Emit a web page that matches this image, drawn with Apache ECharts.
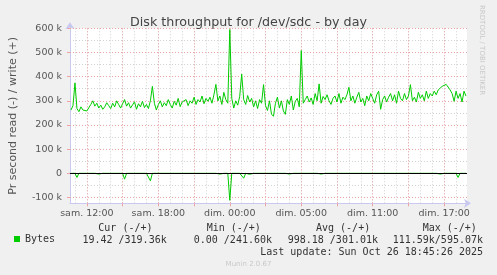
<!DOCTYPE html>
<html><head><meta charset="utf-8">
<script src="https://cdn.jsdelivr.net/npm/echarts@6/dist/echarts.min.js"></script>
<style>html,body{margin:0;padding:0;background:#f0f0f0}#c{width:497px;height:275px}</style>
</head><body><div id="c"></div>
<script>
// time axis: elapsed minutes since Saturday 00:00 (10-minute samples)
const startMinute = 640;
const stepMinutes = 10;
// write (+) throughput, k bytes/s
const writeBytesK = [
 262,280,374,268,255,275,262,270,258,266, 285,300,278,290,270,282,265,275,292,280,
 268,290,275,300,285,270,288,305,278,292, 270,283,296,265,288,275,298,272,285,268,
 300,360,290,262,284,300,275,292,280,305, 285,270,298,282,310,276,295,288,305,280,
 300,290,315,285,305,295,320,288,310,298, 315,290,325,368,300,320,285,335,305,290,
 595,310,270,300,282,318,411,305,285,322, 295,310,275,300,268,305,290,367,280,260,
 300,245,236,290,315,270,300,258,244,305, 285,320,262,298,310,275,508,290,305,320,
 295,312,285,330,300,370,290,318,305,325, 300,285,310,320,295,330,290,315,305,325,
 356,300,320,290,315,335,295,310,280,320, 300,330,310,290,325,340,265,305,320,295,
 315,330,300,325,290,340,310,300,330,305, 320,367,300,315,295,335,310,325,300,340,
 310,330,320,340,325,345,350,360,355,368, 360,345,330,298,340,310,330,295,340,319.36
];
// read (-) throughput, k bytes/s
const readBytesK = [
 0,0,0,-17,0,0,0,0,0,0, 0,0,0,0,-3,0,0,0,0,0,
 0,0,0,0,0,0,0,-24,0,0, 0,0,0,0,0,0,0,0,0,0,
 -31,0,0,0,0,0,0,0,0,0, 0,0,0,0,0,0,0,0,0,0,
 0,0,0,0,0,0,0,0,0,0, -3,0,0,0,0,-3,0,0,0,0,
 -111.59,0,0,0,0,0,-4,-20,0,0, -4,0,0,0,0,0,0,0,0,0,
 0,0,0,0,0,0,0,-3,0,0, -3,0,0,0,0,0,0,0,0,0,
 0,0,0,0,0,0,-3,0,0,0, 0,0,0,0,0,0,0,0,0,0,
 0,0,0,0,0,0,0,0,0,0, 0,0,0,0,0,0,0,0,0,0,
 0,0,0,0,0,0,0,0,0,0, 0,0,0,0,0,0,0,0,0,0,
 0,0,0,0,0,0,-3,0,0,0, 0,0,0,0,0,-17,0,0,0,-0.02
];
const xTickMinutes = [720,1080,1440,1800,2160,2520];
const xTickLabels = ['sam. 12:00','sam. 18:00','dim. 00:00','dim. 05:00','dim. 11:00','dim. 17:00'];
const yTickValues = [-100,0,100,200,300,400,500,600];
const legendHeaders = ['Cur (-/+)','Min (-/+)','Avg (-/+)','Max (-/+)'];
const legendValues = ['19.42 /319.36k','0.00 /241.60k','998.18 /301.01k','111.59k/595.07k'];
const titleText = 'Disk throughput for /dev/sdc - by day';
const yName = 'Pr second read (-) / write (+)';
const lastUpdate = 'Last update: Sun Oct 26 18:45:26 2025';

const xMin = 635, xMax = 2635, yMin = -124, yMax = 600;
const GREY = '#d2d2d2', RED = '#eca4a4', AXIS = '#c8c8f0';

const toPts = arr => arr.map((v, i) => [startMinute + i * stepMinutes, v]);

const gridLines = [];
for (let m = 660; m <= 2580; m += 60) gridLines.push({xAxis: m, lineStyle: {color: GREY}});
for (let v = -50; v <= 550; v += 100) gridLines.push({yAxis: v, lineStyle: {color: GREY}});
const majorX = [];
for (let m = 720; m <= 2580; m += 180) { majorX.push(m); gridLines.push({xAxis: m, lineStyle: {color: RED}}); }
for (const v of yTickValues) if (v !== 0) gridLines.push({yAxis: v, lineStyle: {color: RED}});

const chart = echarts.init(document.getElementById('c'), null, {renderer: 'canvas'});
const mono = 'DejaVu Sans Mono';
const graphics = [];
const headerLeft = [98.3, 206.7, 316, 422.7];
legendHeaders.forEach((t, i) => graphics.push({type: 'text', left: headerLeft[i], top: 223,
  style: {text: t, font: '10px "DejaVu Sans Mono"', fill: '#333'}}));
const valueRight = [166.7, 272, 378, 483];
legendValues.forEach((t, i) => graphics.push({type: 'text', right: 497 - valueRight[i], top: 235,
  style: {text: t, font: '10px "DejaVu Sans Mono"', fill: '#333'}}));
graphics.push({type: 'text', right: 14, top: 247, style: {text: lastUpdate, font: '10px "DejaVu Sans Mono"', fill: '#333'}});
graphics.push({type: 'text', left: 'center', top: 261, style: {text: 'Munin 2.0.67', font: '7px "DejaVu Sans"', fill: '#c8c8c8'}});
graphics.push({type: 'text', x: 485, y: 5, rotation: -Math.PI / 2,
  style: {text: 'RRDTOOL / TOBI OETIKER', font: '7px "DejaVu Sans"', fill: '#c8c8c8', textAlign: 'left', textVerticalAlign: 'top'}});

chart.setOption({
  backgroundColor: '#f0f0f0',
  animation: false,
  title: {text: titleText, left: 'center', top: 11,
    textStyle: {fontFamily: 'DejaVu Sans', fontSize: 12.7, fontWeight: 'normal', color: '#444'}},
  legend: {data: ['Bytes'], left: 9, top: 229, icon: 'rect', itemWidth: 6, itemHeight: 6,
    textStyle: {fontFamily: mono, fontSize: 10, color: '#333'}},
  grid: {left: 67, right: 30, top: 28.3, bottom: 71.7, show: true, backgroundColor: '#fff', borderWidth: 0},
  xAxis: {type: 'value', min: xMin, max: xMax,
    axisLine: {show: true, onZero: false, lineStyle: {color: AXIS}, symbol: ['none', 'arrow'], symbolSize: [7, 7], symbolOffset: [0, 4]},
    axisTick: {show: true, customValues: majorX, length: 3, lineStyle: {color: RED}},
    splitLine: {show: false},
    axisLabel: {customValues: xTickMinutes, formatter: v => xTickLabels[xTickMinutes.indexOf(v)],
      fontFamily: 'DejaVu Sans', fontSize: 9.5, color: '#555', margin: 5}},
  yAxis: {type: 'value', min: yMin, max: yMax,
    name: yName, nameLocation: 'middle', nameGap: 51,
    nameTextStyle: {fontFamily: 'DejaVu Sans', fontSize: 11, color: '#555'},
    axisLine: {show: true, lineStyle: {color: AXIS}, symbol: ['none', 'arrow'], symbolSize: [7, 7], symbolOffset: [0, 6]},
    axisTick: {show: true, customValues: yTickValues, length: 3, lineStyle: {color: RED}},
    splitLine: {show: false},
    axisLabel: {customValues: yTickValues, formatter: v => v === 0 ? '0' : v + ' k',
      fontFamily: 'DejaVu Sans', fontSize: 9.5, color: '#555', margin: 8}},
  graphic: graphics,
  series: [
    {name: 'grid', type: 'line', data: [], z: 1, silent: true,
      markLine: {silent: true, symbol: 'none', z: 1, label: {show: false},
        lineStyle: {type: [1, 2], width: 1}, data: gridLines}},
    {name: 'Bytes', type: 'line', symbol: 'none', z: 3, data: toPts(readBytesK),
      itemStyle: {color: '#00cc00'}, lineStyle: {color: '#00cc00', width: 1},
      markLine: {silent: true, symbol: 'none', label: {show: false},
        lineStyle: {color: '#000', type: 'solid', width: 1}, data: [{yAxis: 0}]}},
    {name: 'Bytes', type: 'line', symbol: 'none', z: 3, data: toPts(writeBytesK),
      itemStyle: {color: '#00cc00'}, lineStyle: {color: '#00cc00', width: 1}}
  ]
});
</script></body></html>
